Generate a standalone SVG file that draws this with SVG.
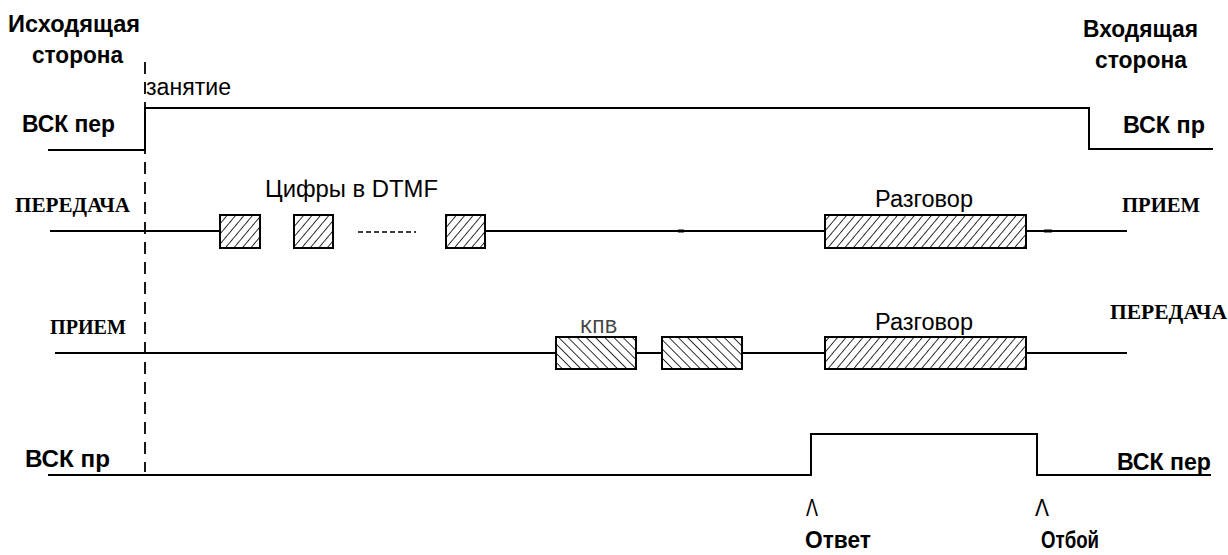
<svg xmlns="http://www.w3.org/2000/svg" width="1228" height="555" viewBox="0 0 1228 555">
<defs>
<pattern id="hatchF" width="6.5" height="6.5" patternUnits="userSpaceOnUse" patternTransform="rotate(40)">
<line x1="0" y1="0" x2="0" y2="6.5" stroke="#000" stroke-width="1.6"/>
</pattern>
<pattern id="hatchB" width="6.5" height="6.5" patternUnits="userSpaceOnUse" patternTransform="rotate(-45)">
<line x1="0" y1="0" x2="0" y2="6.5" stroke="#000" stroke-width="1.6"/>
</pattern>
</defs>
<style>
.ln{fill:none;stroke:#000;stroke-width:2}
.box{stroke:#000;stroke-width:2}
.f{fill:url(#hatchF)}
.b{fill:url(#hatchB)}
.bs{font-family:"Liberation Sans",Arial,sans-serif;font-weight:bold;font-size:24px;fill:#000}
.rs{font-family:"Liberation Sans",Arial,sans-serif;font-size:23px;fill:#000}
.sb{font-family:"Liberation Serif","Times New Roman",serif;font-weight:bold;font-size:22px;fill:#000}
.mono{font-family:"Liberation Mono","Courier New",monospace;font-size:20px;fill:#444}
</style>
<rect width="1228" height="555" fill="#fff"/>

<g id="connectors">
<line x1="145" y1="62" x2="145" y2="472" stroke="#000" stroke-width="1.8" stroke-dasharray="12 8"/>
<polyline class="ln" points="48,150 145,150 145,108 1089,108 1089,149 1213,149"/>
<line class="ln" x1="50" y1="231" x2="219" y2="231"/>
<line x1="358" y1="232" x2="416" y2="232" stroke="#000" stroke-width="1.5" stroke-dasharray="5 3"/>
<line class="ln" x1="485" y1="231" x2="824" y2="231"/>
<line x1="678" y1="231" x2="684" y2="231" stroke="#000" stroke-width="3"/>
<line class="ln" x1="1026" y1="231" x2="1127" y2="231"/>
<line x1="1044" y1="231" x2="1052" y2="231" stroke="#000" stroke-width="3"/>
<line class="ln" x1="55" y1="353" x2="556" y2="353"/>
<line class="ln" x1="636" y1="353" x2="662" y2="353"/>
<line class="ln" x1="742" y1="353" x2="824" y2="353"/>
<line class="ln" x1="1026" y1="353" x2="1127" y2="353"/>
<polyline class="ln" points="48,475 811,475 811,434 1037,434 1037,475 1211,475"/>
</g>

<g id="dtmf1"><rect class="box f" x="220" y="215" width="40" height="33"/></g>
<g id="dtmf2"><rect class="box f" x="294" y="215" width="39" height="33"/></g>
<g id="dtmf3"><rect class="box f" x="446" y="215" width="39" height="33"/></g>
<g id="talk1"><rect class="box f" x="825" y="215" width="201" height="33"/></g>
<g id="kpv1"><rect class="box b" x="556" y="337" width="80" height="32"/></g>
<g id="kpv2"><rect class="box b" x="662" y="337" width="80" height="32"/></g>
<g id="talk2"><rect class="box f" x="825" y="337" width="201" height="32"/></g>

<g id="labels">
<text class="bs" x="8" y="32" textLength="132" lengthAdjust="spacingAndGlyphs">Исходящая</text>
<text class="bs" x="32" y="63" textLength="91" lengthAdjust="spacingAndGlyphs">сторона</text>
<text class="rs" x="146" y="95" textLength="85" lengthAdjust="spacingAndGlyphs">занятие</text>
<text class="bs" x="22" y="132" textLength="93" lengthAdjust="spacingAndGlyphs">ВСК пер</text>
<text class="sb" x="15" y="212" textLength="115" lengthAdjust="spacingAndGlyphs">ПЕРЕДАЧА</text>
<text class="sb" x="50" y="334" textLength="76" lengthAdjust="spacingAndGlyphs">ПРИЕМ</text>
<text class="bs" x="25" y="467" textLength="85" lengthAdjust="spacingAndGlyphs">ВСК пр</text>
<text class="rs" x="265" y="197" textLength="173" lengthAdjust="spacingAndGlyphs">Цифры в DTMF</text>
<text class="rs" x="875" y="207" textLength="98" lengthAdjust="spacingAndGlyphs">Разговор</text>
<text class="rs" x="875" y="330" textLength="98" lengthAdjust="spacingAndGlyphs">Разговор</text>
<text class="mono" x="580" y="333" textLength="37" lengthAdjust="spacingAndGlyphs">КПВ</text>
<text class="bs" x="1083" y="37" textLength="115" lengthAdjust="spacingAndGlyphs">Входящая</text>
<text class="bs" x="1095" y="68" textLength="92" lengthAdjust="spacingAndGlyphs">сторона</text>
<text class="bs" x="1123" y="133" textLength="82" lengthAdjust="spacingAndGlyphs">ВСК пр</text>
<text class="sb" x="1122" y="212" textLength="78" lengthAdjust="spacingAndGlyphs">ПРИЕМ</text>
<text class="sb" x="1110" y="319" textLength="117" lengthAdjust="spacingAndGlyphs">ПЕРЕДАЧА</text>
<text class="bs" x="1117" y="470" textLength="94" lengthAdjust="spacingAndGlyphs">ВСК пер</text>
<text class="rs" x="806" y="516" font-size="19" textLength="12" lengthAdjust="spacingAndGlyphs">Λ</text>
<text class="rs" x="1035" y="516" font-size="19" textLength="14" lengthAdjust="spacingAndGlyphs">Λ</text>
<text class="bs" x="805" y="548" textLength="66" lengthAdjust="spacingAndGlyphs">Ответ</text>
<text class="bs" x="1041" y="548" textLength="58" lengthAdjust="spacingAndGlyphs">Отбой</text>
</g>
</svg>
